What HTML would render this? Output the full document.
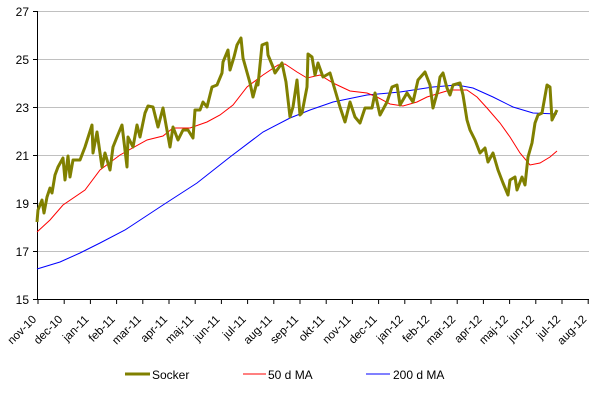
<!DOCTYPE html>
<html><head><meta charset="utf-8"><style>html,body{margin:0;padding:0;background:#fff;}svg{display:block;font-family:"Liberation Sans",Arial,sans-serif;}</style></head>
<body>
<svg width="609" height="417" viewBox="0 0 609 417" xmlns="http://www.w3.org/2000/svg">
<g stroke="#c0c0c0" stroke-width="1">
<line x1="38" y1="11.5" x2="589" y2="11.5"/>
<line x1="38" y1="59.5" x2="589" y2="59.5"/>
<line x1="38" y1="107.5" x2="589" y2="107.5"/>
<line x1="38" y1="155.5" x2="589" y2="155.5"/>
<line x1="38" y1="203.5" x2="589" y2="203.5"/>
<line x1="38" y1="251.5" x2="589" y2="251.5"/>
</g>
<g stroke="#000" stroke-width="1">
<line x1="37.5" y1="11" x2="37.5" y2="299"/>
<line x1="37" y1="299.5" x2="589" y2="299.5"/>
<line x1="33" y1="11.5" x2="38" y2="11.5"/><line x1="33" y1="59.5" x2="38" y2="59.5"/><line x1="33" y1="107.5" x2="38" y2="107.5"/><line x1="33" y1="155.5" x2="38" y2="155.5"/><line x1="33" y1="203.5" x2="38" y2="203.5"/><line x1="33" y1="251.5" x2="38" y2="251.5"/><line x1="33" y1="299.5" x2="38" y2="299.5"/>
</g>
<g font-size="12" text-anchor="end" fill="#000">
<text x="29" y="16">27</text><text x="29" y="64">25</text><text x="29" y="112">23</text><text x="29" y="160">21</text><text x="29" y="208">19</text><text x="29" y="256">17</text><text x="29" y="304">15</text>
</g>
<g id="ticks" stroke="#000" stroke-width="1"></g>
<g id="xl" font-size="11.5" text-anchor="end" fill="#000"></g>
<polyline fill="none" stroke="#0000ff" stroke-width="1" points="37,269 60,262 80,253 100,243 125,230 163,205 197,183 230,157 263,132 290,118 310,110 333,102 367,95 400,92 433,87 457,85 473,88 493,97 513,107 533,113 557,114"/>
<polyline fill="none" stroke="#ff0000" stroke-width="1" points="37,232 50,220 63,205 85,190 100,170 120,155 147,140 163,136 173,128 190,128 207,122 220,115 233,105 247,87 263,75 278,65 285,64 297,72 307,78 320,75 333,83 350,91 367,93 377,97 390,104 403,106 417,102 427,97 440,93 450,90 467,90 477,97 487,108 500,123 510,137 520,153 530,165 540,163 550,157 557,151"/>
<polyline fill="none" stroke="#808000" stroke-width="3" stroke-linejoin="round" points="37,222 38,210 42,200 44,213 47,197 50,188 52,193 55,175 58,167 63,158 65,180 68,156 70,177 73,160 80,160 85,147 92,125 93,153 97,132 102,167 105,153 110,170 113,147 117,137 122,125 127,167 128,137 133,147 137,125 140,137 145,113 148,106 153,107 158,127 163,108 170,147 173,127 178,140 183,130 188,130 193,138 195,110 200,110 203,102 207,107 212,87 217,85 222,73 223,62 228,50 230,70 234,57 237,45 241,38 243,58 250,83 253,97 257,82 258,85 262,45 267,43 268,55 273,67 275,73 282,63 286,82 290,117 293,107 297,80 300,115 302,113 307,87 308,54 312,57 315,75 318,63 323,77 330,73 335,90 340,107 345,122 350,102 355,117 360,123 365,108 372,108 375,93 380,115 387,102 392,87 397,85 400,105 407,93 413,102 418,80 425,72 430,85 433,108 438,90 440,77 443,73 447,88 450,95 453,85 460,83 463,95 467,120 470,130 475,140 480,153 485,148 488,162 493,153 498,170 503,183 508,195 510,180 515,177 517,190 522,177 525,185 528,157 532,143 535,123 538,115 542,113 547,85 550,87 552,120 557,110"/>
<line x1="125" y1="374" x2="150" y2="374" stroke="#808000" stroke-width="3"/>
<text x="152" y="379" font-size="12">Socker</text>
<line x1="243" y1="374" x2="266" y2="374" stroke="#ff0000" stroke-width="1"/>
<text x="268" y="379" font-size="12">50 d MA</text>
<line x1="366" y1="374" x2="390" y2="374" stroke="#0000ff" stroke-width="1"/>
<text x="393" y="379" font-size="12">200 d MA</text>
<script>
var m=["nov-10","dec-10","jan-11","feb-11","mar-11","apr-11","maj-11","jun-11","jul-11","aug-11","sep-11","okt-11","nov-11","dec-11","jan-12","feb-12","mar-12","apr-12","maj-12","jun-12","jul-12","aug-12"];
var t=document.getElementById("ticks"),xl=document.getElementById("xl"),ns="http://www.w3.org/2000/svg";
for(var i=0;i<22;i++){var x=38+i*26.2;var l=document.createElementNS(ns,"line");l.setAttribute("x1",x);l.setAttribute("x2",x);l.setAttribute("y1",299);l.setAttribute("y2",304);t.appendChild(l);
var tx=document.createElementNS(ns,"text");tx.setAttribute("transform","translate("+(x-1)+",320) rotate(-45)");tx.textContent=m[i];xl.appendChild(tx);}
</script>
</svg>
</body></html>
